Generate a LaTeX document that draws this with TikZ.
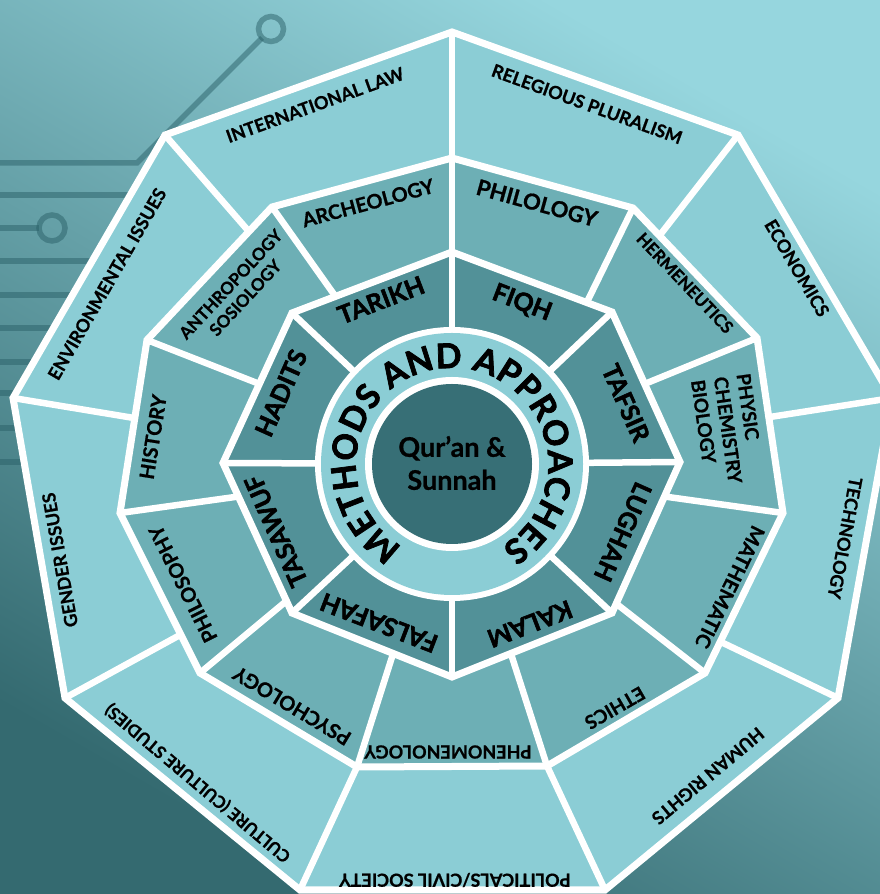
\documentclass[tikz,border=0pt]{standalone}
\usepackage{fontspec}
\setmainfont{Lato}[BoldFeatures={FakeBold=0.8}]
\newfontfamily\heavyfont{Lato}[BoldFeatures={FakeBold=2.2}]
\usetikzlibrary{calc,decorations.text}
\definecolor{bgLight}{HTML}{96D6DE}
\definecolor{bgDark}{HTML}{346A70}
\definecolor{ringOuter}{HTML}{8BCDD5}
\definecolor{ringMid}{HTML}{6DAFB5}
\definecolor{ringIn}{HTML}{529198}
\definecolor{coreDark}{HTML}{376F76}
\definecolor{circuit}{HTML}{2A6068}
\tikzset{
  wline/.style={draw=white, line width=7pt, line join=miter, miter limit=10},
  divline/.style={draw=white, line width=6.5pt},
  circ/.style={draw=circuit, draw opacity=0.5, line width=5.5pt},
  lbl/.style={text=black, inner sep=0pt, align=center},
  lblO/.style={lbl, font=\bfseries\fontsize{18}{20}\selectfont},
  lblM/.style={lbl, font=\bfseries\fontsize{20}{23}\selectfont},
  lblI/.style={lbl, font=\heavyfont\bfseries\fontsize{25}{28}\selectfont},
}
\begin{document}
\begin{tikzpicture}
\useasboundingbox (0,0) rectangle (880pt,894pt);
\shade[top color=bgLight, bottom color=bgDark, shading angle=-30] (0,0) rectangle (880pt,894pt);
\begin{scope}[shift={(0,894pt)}, x=1pt, y=-1pt]
% circuit decoration
\draw[circ, line join=miter] (-5,163) -- (137,163) -- (262,38);
\draw[circ] (271,29) circle[radius=12.5pt];
\draw[circ] (-5,228) -- (39,228);
\draw[circ] (52,228) circle[radius=13pt];
\foreach \yy in {195,261,295,328,362,393,428,462} \draw[circ] (-5,\yy) -- (160,\yy);
% coordinates
\coordinate (C) at (452,464);
\coordinate (O1) at (452,32);  \coordinate (O2) at (738,135); \coordinate (O3) at (892,398);
\coordinate (O4) at (838,698); \coordinate (O5) at (605,890); \coordinate (O6) at (300,890);
\coordinate (O7) at (65,698);  \coordinate (O8) at (13,398);  \coordinate (O9) at (165,135);
\coordinate (E1) at (452,158); \coordinate (E2) at (660,235); \coordinate (E3) at (770,417);
\coordinate (E4) at (721,642); \coordinate (E5) at (547,766); \coordinate (E6) at (357,767);
\coordinate (E7) at (180,635); \coordinate (E8) at (134,418); \coordinate (E9) at (245,227);
\coordinate (M1) at (452,158); \coordinate (M2) at (633,208); \coordinate (M3) at (757,338);
\coordinate (M4) at (783,513); \coordinate (M5) at (705,673); \coordinate (M6) at (547,766);
\coordinate (M7) at (357,767); \coordinate (M8) at (200,673); \coordinate (M9) at (120,513);
\coordinate (M10) at (147,340); \coordinate (M11) at (272,207);
\coordinate (F1) at (452,252); \coordinate (F2) at (587,302); \coordinate (F3) at (647,383);
\coordinate (F4) at (668,497); \coordinate (F5) at (618,605); \coordinate (F6) at (512,657);
\coordinate (F7) at (392,657); \coordinate (F8) at (284,603); \coordinate (F9) at (235,497);
\coordinate (F10) at (257,383); \coordinate (F11) at (333,293);
\coordinate (I1) at (452,252); \coordinate (I2) at (612,312); \coordinate (I3) at (680,462);
\coordinate (I4) at (612,613); \coordinate (I5) at (452,677); \coordinate (I6) at (292,613);
\coordinate (I7) at (223,463); \coordinate (I8) at (292,313);
% outer ring
\fill[ringOuter] (O1)--(O2)--(O3)--(O4)--(O5)--(O6)--(O7)--(O8)--(O9)--cycle;
\foreach \k in {1,...,9} \draw[divline] (O\k) -- ($(O\k)!1.3!(E\k)$);
% middle ring
\fill[ringMid] (M1)--(M2)--(M3)--(M4)--(M5)--(M6)--(M7)--(M8)--(M9)--(M10)--(M11)--cycle;
\foreach \k in {1,...,11} \draw[divline] (M\k) -- ($(M\k)!1.4!(F\k)$);
% inner ring
\fill[ringIn] (I1)--(I2)--(I3)--(I4)--(I5)--(I6)--(I7)--(I8)--cycle;
\foreach \k in {1,...,8} \draw[divline] (I\k) -- (C);
% outlines
\draw[wline] (O1)--(O2)--(O3)--(O4)--(O5)--(O6)--(O7)--(O8)--(O9)--cycle;
\draw[wline] (M1)--(M2)--(M3)--(M4)--(M5)--(M6)--(M7)--(M8)--(M9)--(M10)--(M11)--cycle;
\draw[wline] (I1)--(I2)--(I3)--(I4)--(I5)--(I6)--(I7)--(I8)--cycle;
% circles
\fill[white] (C) circle[radius=137pt];
\fill[ringOuter] (C) circle[radius=131pt];
\fill[white] (C) circle[radius=87pt];
\fill[coreDark] (C) circle[radius=80pt];
% outer labels
\node[lblO, rotate=20] (tIL) at (315,105) {INTERNATIONAL LAW};
\node[lblO, rotate=-20] (tRP) at (587,104) {RELEGIOUS PLURALISM};
\node[lblO, rotate=-59.5] (tEC) at (797,268) {ECONOMICS};
\node[lblO, rotate=-100.5] (tTE) at (845,538) {TECHNOLOGY};
\node[lblO, rotate=-140] (tHR) at (708,776) {HUMAN RIGHTS};
\node[lblO, rotate=180] (tPO) at (455,880) {POLITICALS/CIVIL SOCIETY};
\node[lblO, font=\bfseries\fontsize{17}{19}\selectfont, rotate=140] (tCU) at (198,783) {CULTURE (CULTURE STUDIES)};
\node[lblO, rotate=100] (tGI) at (60,560) {GENDER ISSUES};
\node[lblO, rotate=60] (tEI) at (107,284) {ENVIRONMENTAL ISSUES};
% middle labels
\node[lblM, rotate=15] (tAR) at (368,203) {ARCHEOLOGY};
\node[lblM, font=\bfseries\fontsize{22}{24}\selectfont, rotate=-15.4] (tPL) at (537,203) {PHILOLOGY};
\node[lblM, font=\bfseries\fontsize{17}{19}\selectfont, rotate=-46.4] (tHE) at (685,283) {HERMENEUTICS};
\node[lblM, font=\bfseries\fontsize{19}{23}\selectfont, align=left, rotate=-82] (tPH) at (728,430) {PHYSIC\\CHEMISTRY\\BIOLOGY};
\node[lblM, rotate=-116] (tMA) at (730,587) {MATHEMATIC};
\node[lblM, font=\bfseries\fontsize{19}{23}\selectfont, rotate=-150] (tET) at (615,708) {ETHICS};
\node[lblM, font=\bfseries\fontsize{18}{20}\selectfont, rotate=180] (tPN) at (448,752) {PHENOMENOLOGY};
\node[lblM, rotate=149] (tPS) at (292,706) {PSYCHOLOGY};
\node[lblM, rotate=116.6] (tPY) at (183,584) {PHILOSOPHY};
\node[lblM, rotate=81] (tHI) at (153,437) {HISTORY};
\node[lblM, font=\bfseries\fontsize{17}{20}\selectfont, rotate=47] (tAN) at (238,291) {ANTHROPOLOGY\\SOSIOLOGY};
% inner labels
\node[lblI, rotate=21] (tTA) at (381,300) {TARIKH};
\node[lblI, rotate=-21] (tFI) at (522,303) {FIQH};
\node[lblI, rotate=-66] (tTF) at (626,403) {TAFSIR};
\node[lblI, rotate=-114] (tLU) at (623,532) {LUGHAH};
\node[lblI, rotate=-159] (tKA) at (530,624) {KALAM};
\node[lblI, rotate=159] (tFA) at (379,623) {FALSAFAH};
\node[lblI, rotate=114] (tTS) at (276,531) {TASAWUF};
\node[lblI, rotate=66] (tHA) at (281,393) {HADITS};
% core
\node[lbl, font=\bfseries\fontsize{27}{33}\selectfont] (core) at (452,463) {Qur’an \&\\Sunnah};
\begin{scope}[shift={(452,464)}]
\path[decorate, decoration={text along path, text align={fit to path},
  text={|\heavyfont\bfseries\fontsize{34}{34}\selectfont|METHODS AND APPROACHES}}]
  (239:96pt) arc[start angle=239, end angle=-59, radius=96pt];
\end{scope}
\end{scope}
\end{tikzpicture}
\end{document}
